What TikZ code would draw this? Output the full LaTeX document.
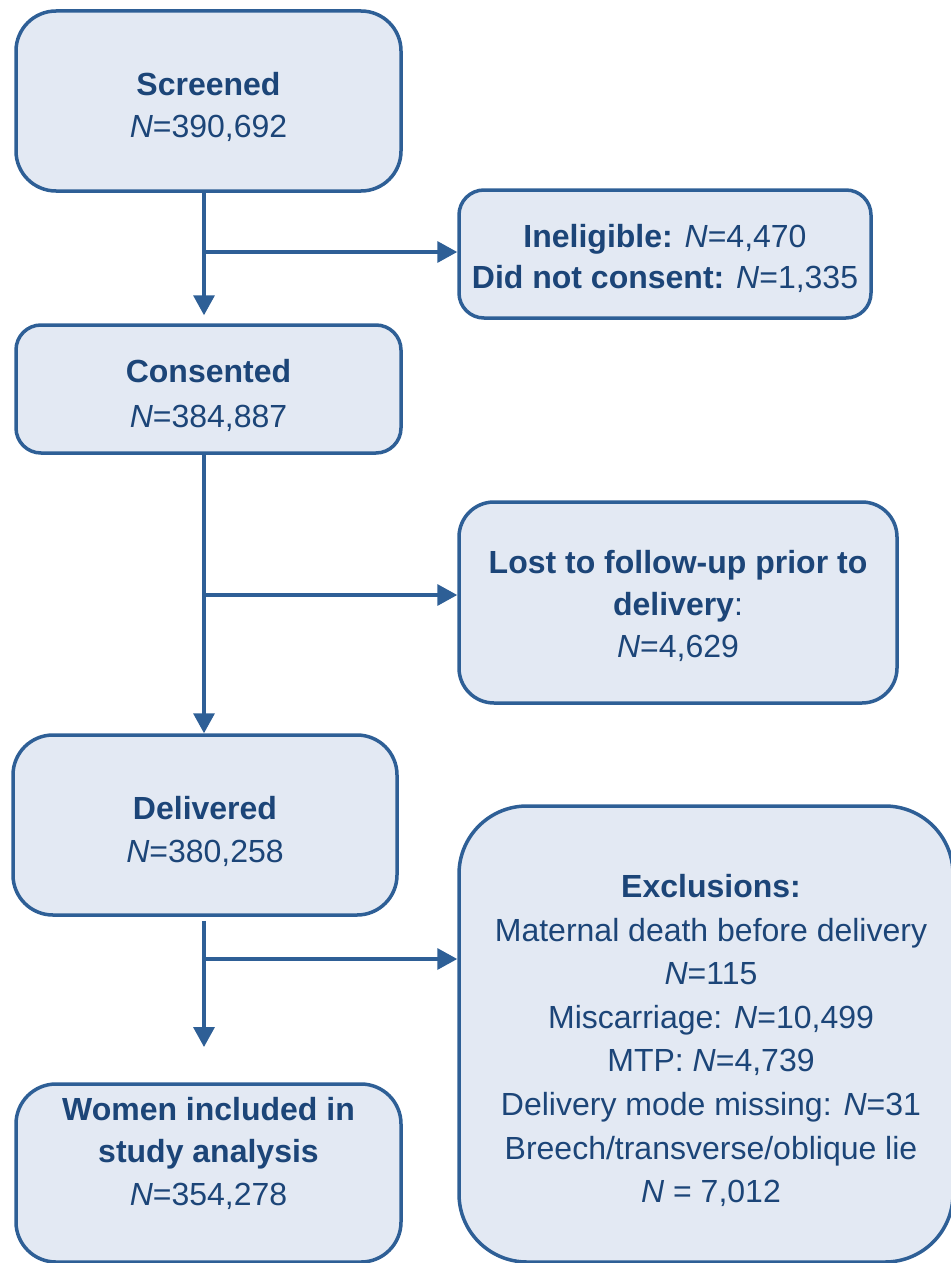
\documentclass[tikz,border=0pt]{standalone}
\usepackage{fontspec}
\setmainfont{Liberation Sans}
\usetikzlibrary{arrows.meta}
\definecolor{boxfill}{RGB}{227,233,243}
\definecolor{boxline}{RGB}{46,95,150}
\definecolor{boxtext}{RGB}{28,69,120}
\begin{document}
\begin{tikzpicture}[x=1pt,y=-1pt,
  box/.style={draw=boxline, line width=3.5pt, fill=boxfill, inner sep=0pt},
  txt/.style={text=boxtext, align=center, inner sep=0pt, font=\fontsize{32}{42}\selectfont},
  conn/.style={draw=boxline, line width=3.5pt},
  arr/.style={conn, -{Triangle[length=20pt,width=21pt]}}]
\useasboundingbox (0,0) rectangle (950,1263);

\node[box, minimum width=385pt, minimum height=180pt, rounded corners=40pt,
  label={[txt,yshift=-6pt]center:{\textbf{Screened}\\\textit{N}=390,692}}] (scr) at (208.5,101) {};
\node[box, minimum width=412pt, minimum height=128pt, rounded corners=25pt,
  label={[txt,yshift=-4.5pt,font=\fontsize{32}{41}\selectfont]center:{\textbf{Ineligible:} \textit{N}=4,470\\\textbf{Did not consent:} \textit{N}=1,335}}] (inel) at (665,254) {};
\node[box, minimum width=385pt, minimum height=128pt, rounded corners=25pt,
  label={[txt,yshift=-6.5pt,font=\fontsize{32}{45}\selectfont]center:{\textbf{Consented}\\\textit{N}=384,887}}] (cons) at (208.5,389) {};
\node[box, minimum width=438pt, minimum height=201pt, rounded corners=35pt,
  label={[txt,yshift=-3.5pt]center:{\textbf{Lost to follow-up prior to}\\\textbf{delivery}:\\\textit{N}=4,629}}] (lost) at (678,602.5) {};
\node[box, minimum width=384pt, minimum height=180pt, rounded corners=40pt,
  label={[txt,yshift=-6.5pt,font=\fontsize{32}{43}\selectfont]center:{\textbf{Delivered}\\\textit{N}=380,258}}] (deliv) at (205,825) {};
\node[box, minimum width=494pt, minimum height=456pt, rounded corners=68pt,
  label={[txt,xshift=5pt,yshift=-6.5pt,font=\fontsize{32}{43.6}\selectfont]center:{\textbf{Exclusions:}\\Maternal death before delivery\\\textit{N}=115\\Miscarriage: \textit{N}=10,499\\MTP: \textit{N}=4,739\\Delivery mode missing: \textit{N}=31\\Breech/transverse/oblique lie\\\textit{N} = 7,012}}] (excl) at (706,1034) {};
\node[box, minimum width=385pt, minimum height=178pt, rounded corners=40pt,
  label={[txt,yshift=20pt,font=\fontsize{32}{42.5}\selectfont]center:{\textbf{Women included in}\\\textbf{study analysis}\\\textit{N}=354,278}}] (women) at (208.5,1173) {};

\coordinate (j1) at (204,252);
\coordinate (j2) at (204,595);
\coordinate (j3) at (204,959);
\coordinate (e3) at (204,1047);

\draw[arr] ([xshift=-4.5pt]scr.south) -- ([xshift=-4.5pt,yshift=8pt]cons.north);
\draw[arr] (j1) -- (j1 -| inel.west);
\draw[arr] ([xshift=-4.5pt]cons.south) -- ([xshift=-1pt]deliv.north);
\draw[arr] (j2) -- (j2 -| lost.west);
\draw[arr] ([xshift=-1pt,yshift=-4pt]deliv.south) -- (e3);
\draw[arr] (j3) -- (j3 -| excl.west);
\end{tikzpicture}
\end{document}
